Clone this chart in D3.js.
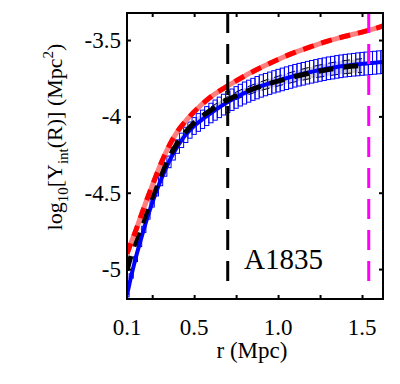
<!DOCTYPE html>
<html><head><meta charset="utf-8">
<script src="https://cdn.jsdelivr.net/npm/d3@7"></script>
<style>body{margin:0;background:#fff;}svg{display:block;}</style>
</head><body>
<svg id="chart" width="400" height="384"></svg>
<script>
// ---- data ----
const xTickMarks = [0.25, 0.5, 0.75, 1.0, 1.25, 1.5];
const xTickLabels = [0.1, 0.5, 1.0, 1.5];
const yTicks = [-3.5, -4, -4.5, -5];

// red (upper) profile
const redR = [0.1, 0.12, 0.15, 0.2, 0.25, 0.3, 0.35, 0.4, 0.45, 0.5, 0.6, 0.7, 0.8, 0.9, 1.0, 1.1, 1.2, 1.3, 1.4, 1.5, 1.6, 1.625];
const redV = [-4.90, -4.84, -4.755, -4.60, -4.455, -4.315, -4.195, -4.10, -4.03, -3.97, -3.872, -3.801, -3.736, -3.679, -3.627, -3.581, -3.542, -3.505, -3.475, -3.448, -3.417, -3.408];

// black dashed profile with band
const blackR = [0.1, 0.12, 0.15, 0.2, 0.25, 0.3, 0.35, 0.4, 0.45, 0.5, 0.6, 0.7, 0.8, 0.9, 1.0, 1.1, 1.2, 1.3, 1.4, 1.5];
const blackV = [-5.01, -4.928, -4.825, -4.68, -4.53, -4.39, -4.27, -4.175, -4.102, -4.042, -3.959, -3.893, -3.841, -3.801, -3.769, -3.739, -3.713, -3.693, -3.677, -3.667];
const blackErr = [0.003, 0.004, 0.005, 0.006, 0.008, 0.01, 0.012, 0.014, 0.016, 0.017, 0.02, 0.023, 0.026, 0.029, 0.032, 0.035, 0.038, 0.041, 0.043, 0.045];

// blue profile with error boxes
const blueR = [0.1, 0.125, 0.15, 0.175, 0.2, 0.225, 0.25, 0.275, 0.3, 0.325, 0.35, 0.375, 0.4, 0.425, 0.45, 0.475, 0.5, 0.525, 0.55, 0.575, 0.6, 0.625, 0.65, 0.675, 0.7, 0.725, 0.75, 0.775, 0.8, 0.825, 0.85, 0.875, 0.9, 0.925, 0.95, 0.975, 1.0, 1.025, 1.05, 1.075, 1.1, 1.125, 1.15, 1.175, 1.2, 1.225, 1.25, 1.275, 1.3, 1.325, 1.35, 1.375, 1.4, 1.425, 1.45, 1.475, 1.5, 1.525, 1.55, 1.575, 1.6, 1.625];
const blueV = [-5.170, -5.045, -4.935, -4.835, -4.740, -4.650, -4.568, -4.492, -4.422, -4.357, -4.298, -4.245, -4.198, -4.157, -4.121, -4.090, -4.063, -4.040, -4.019, -3.998, -3.978, -3.959, -3.941, -3.923, -3.906, -3.891, -3.876, -3.861, -3.847, -3.835, -3.823, -3.812, -3.801, -3.792, -3.783, -3.774, -3.766, -3.758, -3.750, -3.742, -3.734, -3.727, -3.721, -3.714, -3.708, -3.702, -3.696, -3.691, -3.685, -3.681, -3.676, -3.672, -3.668, -3.665, -3.662, -3.659, -3.656, -3.654, -3.651, -3.649, -3.646, -3.644];
const blueErr = [0.012, 0.014, 0.016, 0.018, 0.02, 0.023, 0.026, 0.029, 0.032, 0.035, 0.038, 0.041, 0.044, 0.047, 0.05, 0.053, 0.055, 0.058, 0.06, 0.062, 0.064, 0.066, 0.067, 0.068, 0.069, 0.07, 0.071, 0.071, 0.072, 0.072, 0.072, 0.073, 0.073, 0.073, 0.073, 0.073, 0.074, 0.074, 0.074, 0.074, 0.074, 0.074, 0.074, 0.074, 0.074, 0.074, 0.074, 0.074, 0.074, 0.074, 0.074, 0.074, 0.074, 0.074, 0.074, 0.075, 0.075, 0.075, 0.075, 0.075, 0.075, 0.075];

const vLines = [{r: 0.70, color: "#000000"}, {r: 1.54, color: "#ff00ff"}];
const clusterName = "A1835";

// ---- drawing ----
const FONT = "'Liberation Serif', 'Times New Roman', 'DejaVu Serif', serif";
const svg = d3.select("#chart").attr("font-family", FONT);
const L = 127, R = 383, T = 13, B = 299;
const x = d3.scaleLinear().domain([0.1, 1.625]).range([L, R]);
const y = d3.scaleLinear().domain([-5.196, -3.323]).range([B, T]);

svg.append("defs").append("clipPath").attr("id", "clip")
  .append("rect").attr("x", L).attr("y", T).attr("width", R - L).attr("height", B - T);
const g = svg.append("g").attr("clip-path", "url(#clip)");

const curve = d3.curveMonotoneX;
const blackPts = blackR.map((r, i) => ({r, v: blackV[i], e: blackErr[i]}));
const bluePts = blueR.map((r, i) => ({r, v: blueV[i], e: blueErr[i]}));
const redPts = redR.map((r, i) => ({r, v: redV[i]}));

// gray band
g.append("path").datum(blackPts)
  .attr("d", d3.area().x(d => x(d.r)).y0(d => y(d.v - d.e)).y1(d => y(d.v + d.e)).curve(curve))
  .attr("fill", "#cfcfcf");
// thin black band edges
[-1, 1].forEach(s => {
  g.append("path").datum(blackPts.filter(d => d.r >= 0.6))
    .attr("d", d3.line().x(d => x(d.r)).y(d => y(d.v + s * d.e)).curve(curve))
    .attr("fill", "none").attr("stroke", "#000").attr("stroke-width", 1)
    .attr("stroke-dasharray", "8,6");
});

// blue boxes
const hw = 0.0125;
g.selectAll("rect.box").data(bluePts).enter().append("rect")
  .attr("class", "box")
  .attr("x", d => x(d.r - hw))
  .attr("width", d => x(d.r + hw) - x(d.r - hw))
  .attr("y", d => y(d.v + d.e))
  .attr("height", d => y(d.v - d.e) - y(d.v + d.e))
  .attr("fill", "none").attr("stroke", "#0000ff").attr("stroke-width", 1);

// blue line
g.append("path").datum(bluePts)
  .attr("d", d3.line().x(d => x(d.r)).y(d => y(d.v)).curve(curve))
  .attr("fill", "none").attr("stroke", "#0000ff").attr("stroke-width", 4);

// black dashed
g.append("path").datum(blackPts)
  .attr("d", d3.line().x(d => x(d.r)).y(d => y(d.v)).curve(curve))
  .attr("fill", "none").attr("stroke", "#000").attr("stroke-width", 5)
  .attr("stroke-dasharray", "15,10");

// red: salmon base + red dashes
const redLine = d3.line().x(d => x(d.r)).y(d => y(d.v)).curve(curve);
g.append("path").datum(redPts).attr("d", redLine)
  .attr("fill", "none").attr("stroke", "#ff7f7f").attr("stroke-width", 5);
g.append("path").datum(redPts).attr("d", redLine)
  .attr("fill", "none").attr("stroke", "#ff0000").attr("stroke-width", 5)
  .attr("stroke-dasharray", "11,8");

// vertical dashed lines
vLines.forEach(vl => {
  svg.append("line")
    .attr("x1", x(vl.r)).attr("x2", x(vl.r))
    .attr("y1", T).attr("y2", 287)
    .attr("stroke", vl.color).attr("stroke-width", 3)
    .attr("stroke-dasharray", "20,11");
});

// label
svg.append("text").attr("x", 244).attr("y", 269).attr("font-family", FONT)
  .attr("font-size", 29).text(clusterName);

// axes ticks (inward)
const tickLen = 4;
svg.append("g").attr("transform", `translate(0,${B})`)
  .call(d3.axisBottom(x).tickValues(xTickMarks).tickSize(-tickLen).tickFormat(""))
  .call(a => a.select(".domain").remove());
svg.append("g").attr("transform", `translate(0,${T})`)
  .call(d3.axisTop(x).tickValues(xTickMarks).tickSize(-tickLen).tickFormat(""))
  .call(a => a.select(".domain").remove());
svg.append("g").attr("transform", `translate(${L},0)`)
  .call(d3.axisLeft(y).tickValues(yTicks).tickSize(-tickLen).tickFormat(""))
  .call(a => a.select(".domain").remove());
svg.append("g").attr("transform", `translate(${R},0)`)
  .call(d3.axisRight(y).tickValues(yTicks).tickSize(-tickLen).tickFormat(""))
  .call(a => a.select(".domain").remove());
svg.selectAll(".tick line").attr("stroke", "#000").attr("stroke-width", 2);

// frame
svg.append("rect").attr("x", L).attr("y", T).attr("width", R - L).attr("height", B - T)
  .attr("fill", "none").attr("stroke", "#000").attr("stroke-width", 2);

// tick labels
const fs = 23;
svg.selectAll("text.xl").data(xTickLabels).enter().append("text")
  .attr("class", "xl").attr("x", d => x(d)).attr("y", 335).attr("font-family", FONT)
  .attr("text-anchor", "middle").attr("font-size", fs)
  .text(d => d3.format(".1f")(d));
svg.selectAll("text.yl").data(yTicks).enter().append("text")
  .attr("class", "yl").attr("x", 121).attr("y", d => y(d) + 8).attr("font-family", FONT)
  .attr("text-anchor", "end").attr("font-size", fs)
  .text(d => (d === Math.round(d) ? String(d) : d.toFixed(1)));

// axis titles
svg.append("text").attr("x", 252).attr("y", 358).attr("text-anchor", "middle")
  .attr("font-family", FONT).attr("font-size", 23).text("r (Mpc)");

const yt = svg.append("text").attr("transform", "translate(62,137) rotate(-90)")
  .attr("font-family", FONT).attr("text-anchor", "middle").attr("font-size", 22);
yt.append("tspan").text("log");
yt.append("tspan").attr("font-size", 15).attr("dy", 6).text("10");
yt.append("tspan").attr("dy", -6).text("[Y");
yt.append("tspan").attr("font-size", 15).attr("dy", 6).text("int");
yt.append("tspan").attr("dy", -6).text("(R)] (Mpc");
yt.append("tspan").attr("font-size", 15).attr("dy", -9).text("2");
yt.append("tspan").attr("dy", 9).text(")");
</script>
</body></html>
